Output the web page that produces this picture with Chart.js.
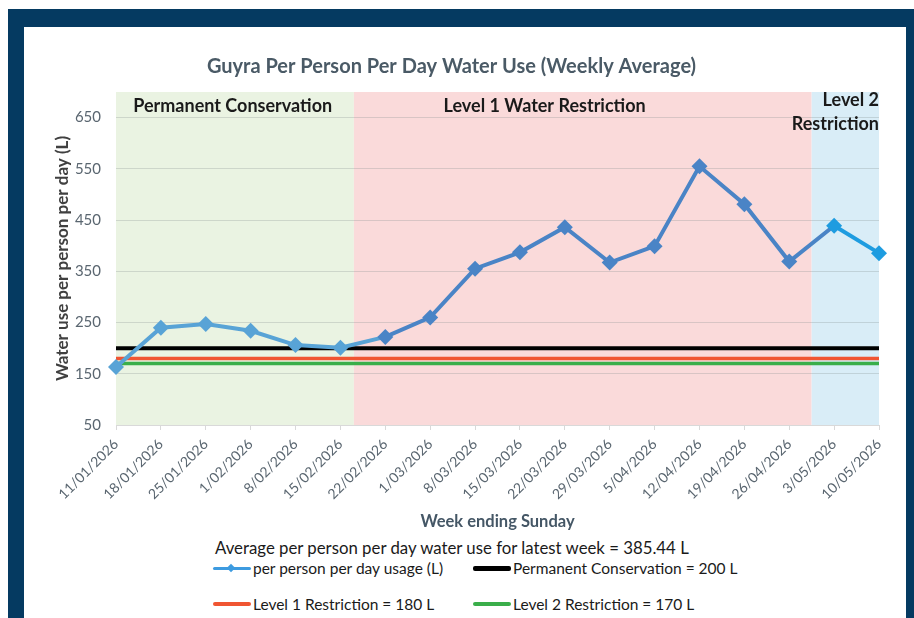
<!DOCTYPE html>
<html>
<head>
<meta charset="utf-8">
<script src="https://cdn.jsdelivr.net/npm/chart.js@4.4.1/dist/chart.umd.min.js"></script>
<style>
body{margin:0;width:914px;height:618px;background:#fff;overflow:hidden;font-family:Lato,sans-serif;position:relative}
#frame{position:absolute;left:8px;top:9px;width:906px;height:609px;background:#053a61}
#panel{position:absolute;left:24px;top:27px;width:882px;height:591px;background:#fff}
#wrap{position:absolute;left:0;top:0;width:882px;height:510px}
#avg{position:absolute;left:191px;top:511px;font-size:16.8px;line-height:20px;color:#1a1a1a;white-space:nowrap}
#legend{position:absolute;left:189px;top:531px;display:grid;grid-template-columns:260px 300px;grid-auto-rows:36px;font-size:15.5px;color:#1a1a1a}
.item{display:flex;align-items:center;height:20px;white-space:nowrap}
.sample{position:relative;width:38px;margin-right:2px}
.sample .ln{border-radius:2px}
.sample .dm{position:absolute;left:15px;width:6px;height:6px;transform:rotate(45deg)}
</style>
</head>
<body>
<div id="frame"></div>
<div id="panel">
  <div id="wrap"><canvas id="chart"></canvas></div>
  <div id="avg">Average per person per day water use for latest week = 385.44 L</div>
  <div id="legend"></div>
</div>
<script>
// week ending dates (x axis)
var weeks = ['11/01/2026','18/01/2026','25/01/2026','1/02/2026','8/02/2026','15/02/2026',
  '22/02/2026','1/03/2026','8/03/2026','15/03/2026','22/03/2026','29/03/2026','5/04/2026',
  '12/04/2026','19/04/2026','26/04/2026','3/05/2026','10/05/2026'];

// weekly average litres per person per day
var usage = [163, 240, 247, 234, 206, 201, 222, 260, 355, 387, 436, 367, 399, 555, 481, 369, 439, 385.44];

// restriction targets
var permanentTarget = [200,200,200,200,200,200,200,200,200,200,200,200,200,200,200,200,200,200];
var level1Target = [180,180,180,180,180,180,180,180,180,180,180,180,180,180,180,180,180,180];
var level2Target = [170,170,170,170,170,170,170,170,170,170,170,170,170,170,170,170,170,170];

var yTicks = [50, 150, 250, 350, 450, 550, 650];

// restriction periods, in week positions
var periodNames = ['Permanent Conservation', 'Level 1 Water Restriction', ['Level 2', 'Restriction']];
var periodStart = [0, 5.3, 15.5];
var periodEnd = [5.3, 15.5, 17];

var bandColors = ['#eaf3e2', '#fadada', '#d9edf7'];
var lineColors = ['#58a3d6', '#4a84c6', '#1e9ce0'];

function usageColor(i){
	if(i <= 5) return lineColors[0];
	if(i >= 16) return lineColors[2];
	return lineColors[1];
}

Chart.defaults.font.family = 'Lato';

var bandPlugin = {
	id: 'bands',
	beforeDraw: function(chart){
		var ctx = chart.ctx, x = chart.scales.x, a = chart.chartArea;
		ctx.save();
		for(var i = 0; i < periodStart.length; i++){
			var x0 = i == 0 ? a.left : x.getPixelForValue(periodStart[i]);
			var x1 = i == periodStart.length - 1 ? a.right : x.getPixelForValue(periodEnd[i]);
			ctx.fillStyle = bandColors[i];
			ctx.fillRect(x0, a.top, x1 - x0, a.bottom - a.top);
		}
		ctx.restore();
	},
	afterDatasetsDraw: function(chart){
		var ctx = chart.ctx, x = chart.scales.x, a = chart.chartArea;
		ctx.save();
		ctx.font = 'bold 18px Lato';
		ctx.fillStyle = '#1a1a1a';
		ctx.textBaseline = 'middle';
		ctx.textAlign = 'center';
		ctx.fillText(periodNames[0], x.getPixelForValue(2.6), a.top + 14);
		ctx.fillText(periodNames[1], x.getPixelForValue(9.55), a.top + 14);
		ctx.textAlign = 'right';
		ctx.fillText(periodNames[2][0], a.right, a.top + 8);
		ctx.fillText(periodNames[2][1], a.right, a.top + 32);
		ctx.restore();
	}
};

var chart = new Chart(document.getElementById('chart'), {
	type: 'line',
	data: {
		labels: weeks,
		datasets: [{
			label: 'per person per day usage (L)',
			data: usage,
			borderColor: lineColors[1],
			borderWidth: 4,
			tension: 0,
			pointStyle: 'rectRot',
			pointRadius: 8,
			pointBorderWidth: 0,
			pointBackgroundColor: function(c){ return usageColor(c.dataIndex); },
			segment: {
				borderColor: function(c){ return usageColor(c.p0DataIndex); }
			}
		}, {
			label: 'Permanent Conservation = 200 L',
			data: permanentTarget,
			borderColor: '#000000',
			borderWidth: 4,
			pointRadius: 0
		}, {
			label: 'Level 1 Restriction = 180 L',
			data: level1Target,
			borderColor: '#f05532',
			borderWidth: 3.5,
			pointRadius: 0
		}, {
			label: 'Level 2 Restriction = 170 L',
			data: level2Target,
			borderColor: '#3aae4a',
			borderWidth: 3.5,
			pointRadius: 0
		}]
	},
	options: {
		responsive: true,
		maintainAspectRatio: false,
		animation: false,
		layout: {padding: {left: 0, right: 27, top: 0, bottom: 0}},
		plugins: {
			legend: {display: false},
			tooltip: {enabled: false},
			title: {
				display: true,
				text: 'Guyra Per Person Per Day Water Use (Weekly Average)',
				color: '#4a5a66',
				font: {size: 20, weight: 'bold'},
				padding: {top: 28, bottom: 13}
			}
		},
		scales: {
			x: {
				offset: false,
				afterFit: function(s){ s.height = 112; },
				grid: {drawOnChartArea: false, tickLength: 5, color: '#d9d9d9'},
				border: {color: '#d9d9d9'},
				ticks: {autoSkip: false, minRotation: 45, maxRotation: 45, padding: 6, color: '#5a6670', font: {size: 14}},
				title: {display: true, text: 'Week ending Sunday', color: '#455766', font: {size: 16.5, weight: 'bold'}, padding: {top: 0, bottom: 5}}
			},
			y: {
				min: 50,
				max: 700,
				afterFit: function(s){ s.width = 92; },
				afterBuildTicks: function(s){ s.ticks = yTicks.map(function(v){ return {value: v}; }); },
				grid: {color: 'rgba(130,140,140,0.28)', drawTicks: false},
				border: {display: false},
				ticks: {padding: 15, color: '#5a6670', font: {size: 15}},
				title: {display: true, text: 'Water use per person per day (L)', color: '#404040', font: {size: 17, weight: 'bold'}, padding: {top: 28, bottom: 0}}
			}
		}
	},
	plugins: [bandPlugin]
});

// html legend built from the datasets
var leg = document.getElementById('legend');
chart.data.datasets.forEach(function(ds, i){
	var item = document.createElement('div');
	item.className = 'item';
	var col = i == 0 ? '#3d9be0' : ds.borderColor;
	var h = i == 0 ? 3 : (i == 1 ? 5 : 4);
	var html = '<div class="sample"><div class="ln" style="background:' + col + ';height:' + h + 'px"></div>';
	if(i == 0) html += '<div class="dm" style="background:' + col + ';top:-1.5px"></div>';
	html += '</div><span>' + ds.label + '</span>';
	item.innerHTML = html;
	leg.appendChild(item);
});
</script>
</body>
</html>
